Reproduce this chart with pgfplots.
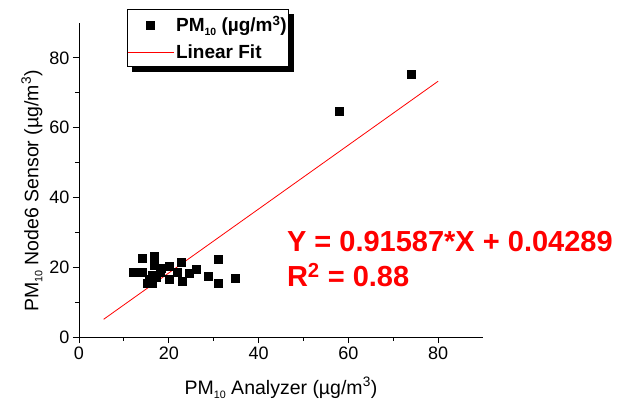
\documentclass[border=0pt]{standalone}
\usepackage{fontspec}
\setmainfont{Liberation Sans}
\usepackage{graphicx}
\usepackage{pgfplots}
\pgfplotsset{compat=1.18}
\pgfdeclarelayer{background}
\pgfsetlayers{background,main}
\newcommand\sub[1]{\raisebox{-0.4ex}{\scalebox{0.55}{#1}}}
\pgfplotsset{
  marklegend/.style={legend image code/.code={\draw[mark repeat=2,mark phase=2,##1] plot coordinates {(0pt,0pt) (23pt,0pt) (46pt,0pt)};}},
  linelegend/.style={legend image code/.code={\draw[##1] (0pt,0pt) -- (46pt,0pt);}},
}
\begin{document}
\begin{tikzpicture}
\path (-79pt,-66pt) rectangle (538pt,337pt);
\begin{axis}[
  at={(0pt,0pt)}, anchor=south west,
  scale only axis, width=404pt, height=314pt,
  xmin=0, xmax=90, ymin=0, ymax=90,
  axis x line*=bottom, axis y line*=left,
  xtick={0,20,...,80}, ytick={0,20,...,80},
  minor tick num=1,
  tick align=outside,
  major tick length=6pt, minor tick length=4pt,
  tick style={black, line width=0.8pt},
  axis line style={black, line width=0.8pt},
  ticklabel style={font=\fontsize{18}{21}\selectfont},
  /pgf/number format/assume math mode=true,
  xlabel={PM\sub{10} Analyzer (µg/m\textsuperscript{3})},
  ylabel={PM\sub{10} Node6 Sensor (µg/m\textsuperscript{3})},
  label style={font=\fontsize{19.5}{23}\selectfont},
  xlabel style={yshift=-11pt},
  ylabel style={at={(ticklabel cs:0.465)}},
  clip=false,
  legend cell align=left,
  legend style={name=leg, at={(0.1188,1.0446)}, anchor=north west, draw=black, line width=0.6pt,
    fill=white,
    font=\bfseries\fontsize{19}{22}\selectfont, inner xsep=0pt, inner ysep=5pt, row sep=7pt},
]
\addplot[only marks, mark=square*, mark size=4pt, black, marklegend]
coordinates {
(14.0,22.5) (16.8,23.2) (12.0,18.5) (14.0,18.5) (16.8,20.6) (20.1,20.3)
(22.7,21.3) (24.6,18.4) (20.1,16.5) (23.0,16.1) (15.1,15.3) (16.2,17.7)
(18.0,18.7) (15.7,16.5) (17.3,17.2) (18.4,19.6) (21.8,18.7) (16.2,15.3)
(26.0,19.5) (28.8,17.4) (30.9,22.3) (30.9,15.5) (34.9,16.8)
(57.9,64.7) (73.9,75.3)
};
\addlegendentry{PM\sub{10} (µg/m\textsuperscript{3})\hspace{5pt}}
\addplot[red, line width=0.8pt, linelegend]
coordinates {(5.5,5.08) (80,73.31)};
\addlegendentry{Linear Fit}
\node[anchor=base west, red, font=\bfseries\fontsize{29}{33}\selectfont, inner sep=0pt]
  at (axis cs:46.3,24.4) {Y = 0.91587*X + 0.04289};
\node[anchor=base west, red, font=\bfseries\fontsize{29}{33}\selectfont, inner sep=0pt]
  at (axis cs:46.3,14.6) {R\textsuperscript{2} = 0.88};
\end{axis}
\begin{pgfonlayer}{background}
\fill[black] ([xshift=5pt,yshift=-5pt]leg.south west) rectangle ([xshift=5pt,yshift=-5pt]leg.north east);
\end{pgfonlayer}
\end{tikzpicture}
\end{document}
